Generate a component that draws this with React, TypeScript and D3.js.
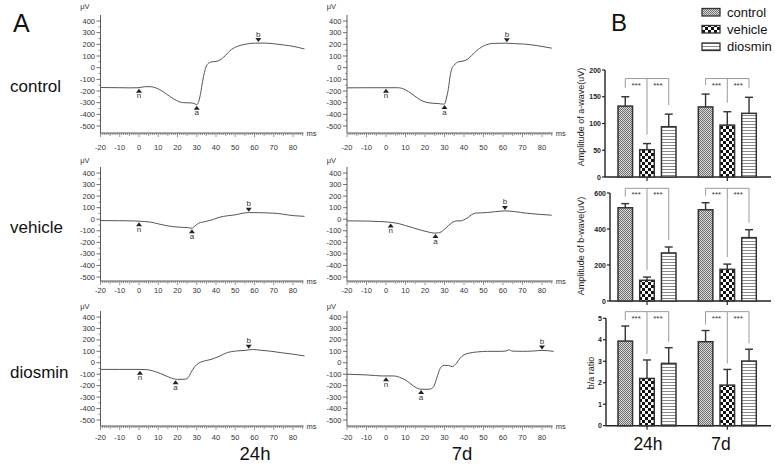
import React from 'react';
import * as d3 from 'd3';

// ---------------- Panel A : ERG traces ----------------
const ergRowNames = ['control', 'vehicle', 'diosmin'];
const ergColNames = ['24h', '7d'];
const ergTimeTicks = [-20, -10, 0, 10, 20, 30, 40, 50, 60, 70, 80];
const ergValueTicks = [400, 300, 200, 100, 0, -100, -200, -300, -400, -500];

type Pt = [number, number];
type Mark = { id: string; t: number; v: number };

const control24h: Pt[] = [
  [-20, -170], [-15, -171], [-10, -172], [-5, -173], [0, -172], [3, -163], [6, -163], [9, -175],
  [12, -200], [15, -235], [18, -268], [21, -292], [23, -300], [27, -302], [29, -310], [30, -318],
  [31, -290], [32, -220], [33, -120], [34, -40], [35, 15], [36.5, 42], [38, 50], [40, 53], [42, 65],
  [44, 90], [46, 125], [48, 155], [51, 182], [55, 200], [60, 210], [65, 211], [70, 205], [75, 195],
  [80, 183], [86, 160],
];
const control24hMarks: Mark[] = [{ id: 'n', t: 0, v: -172 }, { id: 'a', t: 30, v: -318 }, { id: 'b', t: 62, v: 211 }];

const control7d: Pt[] = [
  [-20, -173], [-10, -172], [0, -172], [6, -172], [10, -190], [13, -222], [16, -258], [18, -280],
  [21, -298], [24, -305], [27, -308], [29, -312], [30, -312], [31, -260], [32, -180], [33, -60],
  [34, 0], [35, 23], [37, 50], [40, 58], [42, 75], [44, 105], [47, 153], [51, 193], [55, 208],
  [61, 210], [66, 206], [71, 202], [77, 190], [85, 167],
];
const control7dMarks: Mark[] = [{ id: 'n', t: 0, v: -172 }, { id: 'a', t: 30, v: -312 }, { id: 'b', t: 62, v: 210 }];

const vehicle24h: Pt[] = [
  [-20, -12], [-10, -13], [-2, -15], [3, -20], [6, -25], [10, -40], [14, -55], [18, -65], [22, -70],
  [25, -72], [27.5, -78], [29, -60], [31, -35], [34, -22], [38, -5], [42, 18], [46, 30], [50, 38],
  [54, 52], [57, 57], [62, 57], [67, 54], [72, 50], [77, 38], [81, 30], [86, 25],
];
const vehicle24hMarks: Mark[] = [{ id: 'n', t: 0, v: -18 }, { id: 'a', t: 27.5, v: -78 }, { id: 'b', t: 57, v: 57 }];

const vehicle7d: Pt[] = [
  [-20, -14], [-10, -16], [-3, -20], [3, -28], [7, -40], [10, -55], [14, -75], [18, -95], [22, -112],
  [25, -120], [27, -118], [29.5, -95], [32, -55], [34, -28], [36, -15], [38.5, -14], [40, -5],
  [42, 15], [44, 40], [46, 53], [52, 58], [56, 65], [61, 72], [66, 66], [72, 52], [78, 43], [85, 35],
];
const vehicle7dMarks: Mark[] = [{ id: 'n', t: 2.4, v: -28 }, { id: 'a', t: 25.4, v: -120 }, { id: 'b', t: 61, v: 72 }];

const diosmin24h: Pt[] = [
  [-20, -58], [-10, -58], [0, -58], [4, -60], [7, -70], [11, -93], [15, -122], [18, -140], [20, -145],
  [24, -143], [25.5, -130], [27, -85], [28.5, -45], [30, -15], [32, 5], [35, 20], [38, 32], [42, 60],
  [46, 90], [50, 102], [55, 108], [59, 116], [63, 110], [68, 102], [74, 88], [80, 75], [86, 60],
];
const diosmin24hMarks: Mark[] = [{ id: 'n', t: 0.5, v: -62 }, { id: 'a', t: 19, v: -145 }, { id: 'b', t: 57, v: 114 }];

const diosmin7d: Pt[] = [
  [-20, -100], [-10, -106], [-2, -115], [4, -115], [7, -127], [10.5, -156], [14, -202], [17.5, -230],
  [20, -232], [22.5, -230], [24.5, -207], [26, -135], [27.8, -49], [29.6, -23], [32, -23], [34, -35],
  [36, -6], [38, 40], [40, 70], [42, 82], [47, 95], [52, 100], [59, 100], [62, 105], [63, 115],
  [64.5, 102], [70, 100], [75, 102], [80, 108], [86, 100],
];
const diosmin7dMarks: Mark[] = [{ id: 'n', t: 0, v: -118 }, { id: 'a', t: 18, v: -230 }, { id: 'b', t: 80, v: 108 }];

const ergTraces: Pt[][][] = [
  [control24h, control7d],
  [vehicle24h, vehicle7d],
  [diosmin24h, diosmin7d],
];
const ergMarks: Mark[][][] = [
  [control24hMarks, control7dMarks],
  [vehicle24hMarks, vehicle7dMarks],
  [diosmin24hMarks, diosmin7dMarks],
];

// ---------------- Panel B : bar charts ----------------
const groups = ['24h', '7d'];
const treatments = ['control', 'vehicle', 'diosmin'];
// [group][treatment]
const aWaveMean = [[132.5, 51, 94], [131, 97, 119]];
const aWaveErr = [[17.5, 11.5, 23.5], [24, 25, 30]];
const bWaveMean = [[518, 115, 267], [507, 176, 352]];
const bWaveErr = [[23, 18, 33], [39, 29, 44]];
const ratioMean = [[3.94, 2.2, 2.9], [3.91, 1.89, 3.01]];
const ratioErr = [[0.7, 0.86, 0.73], [0.52, 0.73, 0.55]];
const aWaveTicks = [0, 50, 100, 150, 200];
const bWaveTicks = [0, 200, 400, 600];
const ratioTicks = [0, 1, 2, 3, 4, 5];
const sigLabel = '***';

// ---------------- layout ----------------
const FONT = 'Liberation Sans, Arial, Helvetica, sans-serif';
const ERG_COLS = [{ x0: 139, x80: 293 }, { x0: 386, x80: 542 }];
const ERG_ROWS = [
  { yHi: 21, yLo: 126, axisY: 133, labelY: 147, muY: 9, nameY: 92 },
  { yHi: 173, yLo: 277, axisY: 281, labelY: 290, muY: 163, nameY: 233 },
  { yHi: 317, yLo: 420, axisY: 426, labelY: 437, muY: 309, nameY: 378 },
];
const AXIS_C = '#4a4a4a';
const TXT_C = '#333';

function ErgPanel({ row, col }: { row: number; col: number }) {
  const C = ERG_COLS[col];
  const R = ERG_ROWS[row];
  const x = d3.scaleLinear().domain([0, 80]).range([C.x0, C.x80]);
  const y = d3.scaleLinear().domain([-500, 400]).range([R.yLo, R.yHi]);
  const ax = x(-20);
  const xEnd = x(85.5);
  const line = d3.line<Pt>().x(d => x(d[0])).y(d => y(d[1])).curve(d3.curveMonotoneX);
  const minor = d3.range(-20, 86, 1);
  const yMinor = d3.range(-450, 400, 100);
  return (
    <g>
      <line x1={ax} x2={ax} y1={R.axisY} y2={y(400) - 6} stroke={AXIS_C} strokeWidth={0.9} />
      {ergValueTicks.map(v => (
        <g key={v}>
          <line x1={ax - 4} x2={ax} y1={y(v)} y2={y(v)} stroke={AXIS_C} strokeWidth={0.8} />
          <text x={ax - 5.5} y={y(v) + 2.6} textAnchor="end" fontSize={7.5} fill={TXT_C}>{v}</text>
        </g>
      ))}
      {yMinor.map(v => (
        <line key={'m' + v} x1={ax - 2} x2={ax} y1={y(v)} y2={y(v)} stroke={AXIS_C} strokeWidth={0.6} />
      ))}
      <line x1={ax} x2={xEnd} y1={R.axisY} y2={R.axisY} stroke={AXIS_C} strokeWidth={0.9} />
      {minor.map(t => (
        <line key={'t' + t} x1={x(t)} x2={x(t)} y1={R.axisY}
          y2={R.axisY + (t % 10 === 0 ? 4 : t % 5 === 0 ? 3 : 2)}
          stroke={AXIS_C} strokeWidth={0.6} />
      ))}
      {ergTimeTicks.map(t => (
        <text key={'l' + t} x={x(t)} y={R.labelY + 2.6} textAnchor="middle" fontSize={7.5} fill={TXT_C}>{t}</text>
      ))}
      <text x={xEnd + 3} y={R.axisY + 2.5} fontSize={7.5} fill={TXT_C}>ms</text>
      <text x={ax - 11} y={R.muY} textAnchor="end" fontSize={7.5} fill={TXT_C}>μV</text>
      <path d={line(ergTraces[row][col]) || ''} fill="none" stroke="#555" strokeWidth={1} />
      {ergMarks[row][col].map(m => {
        const mx = x(m.t);
        if (m.id === 'b') {
          const tip = y(m.v) - 1;
          return (
            <g key={m.id}>
              <path d={`M${mx - 3},${tip - 4}L${mx + 3},${tip - 4}L${mx},${tip}Z`} fill="#222" />
              <text x={mx} y={tip - 5.5} textAnchor="middle" fontSize={8} fill={TXT_C}>{m.id}</text>
            </g>
          );
        }
        const tip = y(m.v) + 1;
        return (
          <g key={m.id}>
            <path d={`M${mx},${tip}L${mx - 3},${tip + 4}L${mx + 3},${tip + 4}Z`} fill="#222" />
            <text x={mx} y={tip + 9.5} textAnchor="middle" fontSize={8} fill={TXT_C}>{m.id}</text>
          </g>
        );
      })}
    </g>
  );
}

const patternIds = ['pat-control', 'pat-vehicle', 'pat-diosmin'];

function Patterns() {
  return (
    <defs>
      <pattern id="pat-control" patternUnits="userSpaceOnUse" width={2} height={2}>
        <rect width={2} height={2} fill="#dcdcdc" />
        <rect width={1} height={1} fill="#6e6e6e" />
        <rect x={1} y={1} width={1} height={1} fill="#6e6e6e" />
      </pattern>
      <pattern id="pat-vehicle" patternUnits="userSpaceOnUse" width={6} height={6}>
        <rect width={6} height={6} fill="#fff" />
        <rect width={3} height={3} fill="#111" />
        <rect x={3} y={3} width={3} height={3} fill="#111" />
      </pattern>
      <pattern id="pat-diosmin" patternUnits="userSpaceOnUse" width={3} height={3}>
        <rect width={3} height={3} fill="#fff" />
        <rect y={1} width={3} height={1} fill="#8a8a8a" />
      </pattern>
    </defs>
  );
}

const B_PANELS = [
  { mean: aWaveMean, err: aWaveErr, ticks: aWaveTicks, axisX: 605, y0: 177, yTop: 70,
    label: 'Amplitude of a-wave(uV)', labelX: 584, labelY: 117, bracket: 184, gap: 9 },
  { mean: bWaveMean, err: bWaveErr, ticks: bWaveTicks, axisX: 610, y0: 301, yTop: 193,
    label: 'Amplitude of b-wave(uV)', labelX: 584, labelY: 246, bracket: 626, gap: 7 },
  { mean: ratioMean, err: ratioErr, ticks: ratioTicks, axisX: 606, y0: 425.7, yTop: 318.3,
    label: 'b/a ratio', labelX: 594, labelY: 373, bracket: 5.31, gap: 6 },
];

function BarPanel({ p }: { p: typeof B_PANELS[number] }) {
  const max = p.ticks[p.ticks.length - 1];
  const y = d3.scaleLinear().domain([0, max]).range([p.y0, p.yTop]);
  const gx = d3.scalePoint<string>().domain(groups).range([647, 727.3]);
  const bx = d3.scaleBand<string>().domain(treatments).range([-29, 29]).paddingInner(0.33);
  const bw = bx.bandwidth();
  const yB = y(p.bracket);
  return (
    <g fontFamily={FONT}>
      <line x1={p.axisX} x2={p.axisX} y1={p.y0} y2={p.yTop} stroke="#222" strokeWidth={1.4} />
      <line x1={p.axisX} x2={771} y1={p.y0} y2={p.y0} stroke="#222" strokeWidth={1.4} />
      {p.ticks.map(t => (
        <g key={t}>
          <line x1={p.axisX - 3} x2={p.axisX} y1={y(t)} y2={y(t)} stroke="#222" strokeWidth={1.2} />
          <text x={p.axisX - 4} y={y(t) + 2.5} textAnchor="end" fontSize={7} fontWeight="bold" fill="#222">{t}</text>
        </g>
      ))}
      {groups.map(g => (
        <line key={g} x1={gx(g)} x2={gx(g)} y1={p.y0} y2={p.y0 + 4} stroke="#222" strokeWidth={1.2} />
      ))}
      <text transform={`translate(${p.labelX},${p.labelY}) rotate(-90)`} textAnchor="middle" fontSize={9} fill="#222">{p.label}</text>
      {groups.map((g, gi) => {
        const cx = treatments.map(t => (gx(g) as number) + (bx(t) as number) + bw / 2);
        const tops = treatments.map((t, ti) => y(p.mean[gi][ti] + p.err[gi][ti]));
        return (
          <g key={g}>
            {treatments.map((t, ti) => {
              const x0 = (gx(g) as number) + (bx(t) as number);
              const v = p.mean[gi][ti];
              return (
                <g key={t}>
                  <line x1={cx[ti]} x2={cx[ti]} y1={y(v)} y2={tops[ti]} stroke="#333" strokeWidth={1.4} />
                  <line x1={cx[ti] - 4} x2={cx[ti] + 4} y1={tops[ti]} y2={tops[ti]} stroke="#333" strokeWidth={1.4} />
                  <rect x={x0} y={y(v)} width={bw} height={p.y0 - y(v)} fill={`url(#${patternIds[ti]})`} stroke="#333" strokeWidth={1.5} />
                </g>
              );
            })}
            <line x1={cx[0]} x2={cx[2]} y1={yB} y2={yB} stroke="#9a9a9a" strokeWidth={1} />
            {cx.map((c, i) => (
              <line key={i} x1={c} x2={c} y1={yB} y2={tops[i] - p.gap} stroke="#9a9a9a" strokeWidth={1} />
            ))}
            <text x={(cx[0] + cx[1]) / 2} y={yB + 9} textAnchor="middle" fontSize={8} fill="#333">{sigLabel}</text>
            <text x={(cx[1] + cx[2]) / 2} y={yB + 9} textAnchor="middle" fontSize={8} fill="#333">{sigLabel}</text>
          </g>
        );
      })}
    </g>
  );
}

const barGroupLabelX = [648, 721];
const legendRowsY = [8.5, 25.5, 43];

export default function App() {
  return (
    <svg width={775} height={468} viewBox="0 0 775 468"
      style={{ position: 'absolute', left: 0, top: 0, background: '#fff' }} fontFamily={FONT}>
      <Patterns />
      <rect width={775} height={468} fill="#fff" />
      <text x={13} y={32} fontSize={25} fill="#111">A</text>
      <text x={611} y={31} fontSize={24} fill="#111">B</text>
      {ergRowNames.map((n, ri) => (
        <text key={n} x={10} y={ERG_ROWS[ri].nameY} fontSize={17} fill="#111">{n}</text>
      ))}
      {ergRowNames.map((n, ri) => ergColNames.map((c, ci) => (
        <ErgPanel key={n + c} row={ri} col={ci} />
      )))}
      <text x={255} y={460} textAnchor="middle" fontSize={18.5} fill="#111">{ergColNames[0]}</text>
      <text x={462} y={460} textAnchor="middle" fontSize={18.5} fill="#111">{ergColNames[1]}</text>
      {B_PANELS.map((p, i) => <BarPanel key={i} p={p} />)}
      {groups.map((g, i) => (
        <text key={g} x={barGroupLabelX[i]} y={450} textAnchor="middle" fontSize={17.5} fill="#111">{g}</text>
      ))}
      {treatments.map((t, i) => (
        <g key={t}>
          <rect x={702} y={legendRowsY[i]} width={18} height={7.5} fill={`url(#${patternIds[i]})`} stroke="#333" strokeWidth={1.3} />
          <text x={727} y={legendRowsY[i] + 8} fontSize={13} fill="#111">{t}</text>
        </g>
      ))}
    </svg>
  );
}
